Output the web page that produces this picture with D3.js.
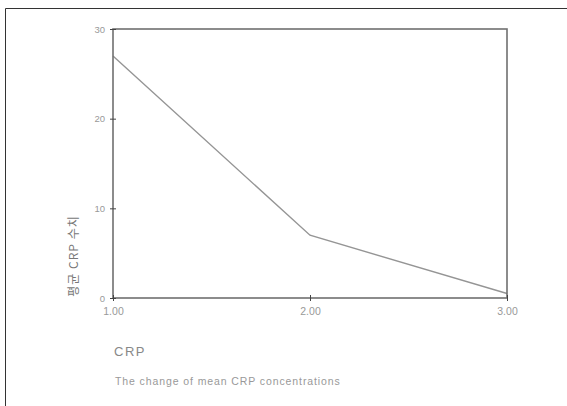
<!DOCTYPE html>
<html>
<head>
<meta charset="utf-8">
<script src="https://cdn.jsdelivr.net/npm/d3@7"></script>
<style>
    body { margin: 0; background: #fff; }
    text { font-family: "Liberation Sans", Arial, sans-serif; }
</style>
</head>
<body>
<svg></svg>
<script>
const groups = [1, 2, 3];
const meanCrp = [27, 7, 0.5];
const xTicks = [1, 2, 3];
const yTicks = [0, 10, 20, 30];
const yLabel = "평균 CRP 수치";
const xLabel = "CRP";
const caption = "The change of mean CRP concentrations";

const width = 567;
const height = 406;
const margin = { top: 29, right: 60, bottom: 108, left: 113 };

const svg = d3.select("svg")
    .attr("width", width)
    .attr("height", height);

/* outer frame of the figure, running off right and bottom */
svg.append("path")
    .attr("d", `M5.5,${height + 2}V8.5H${width + 2}`)
    .attr("fill", "none")
    .attr("stroke", "#333")
    .attr("stroke-width", 1);

const w = width - margin.left - margin.right;
const h = height - margin.top - margin.bottom;

const g = svg.append("g")
    .attr("transform", `translate(${[margin.left, margin.top]})`);

const x = d3.scaleLinear().domain([1, 3]).range([0, w]);
const y = d3.scaleLinear().domain([0, 30]).range([h, 0]);

const line = d3.line()
    .x((d, i) => x(groups[i]))
    .y((d) => y(d));

g.append("path")
    .datum(meanCrp)
    .attr("fill", "none")
    .attr("stroke", "#959595")
    .attr("stroke-width", 1.4)
    .attr("d", line);

g.append("rect")
    .attr("width", w)
    .attr("height", h)
    .attr("fill", "none")
    .attr("stroke", "#707070")
    .attr("stroke-width", 1.6);

const yAxis = g.append("g")
    .call(d3.axisLeft(y).tickValues(yTicks).tickSize(3).tickFormat(d3.format("d")));
yAxis.select(".domain").remove();
yAxis.selectAll(".tick line").attr("x2", 3).attr("x1", -3).attr("stroke", "#444");
yAxis.selectAll(".tick text")
    .attr("x", -8)
    .attr("fill", "#999")
    .style("font-size", "9.5px");

const xAxis = g.append("g")
    .attr("transform", `translate(0,${h})`)
    .call(d3.axisBottom(x).tickValues(xTicks).tickSize(3).tickFormat(d3.format(".2f")));
xAxis.select(".domain").remove();
xAxis.selectAll(".tick line").attr("y1", -3).attr("y2", 3).attr("stroke", "#444");
xAxis.selectAll(".tick text")
    .attr("y", 10)
    .attr("fill", "#999")
    .style("font-size", "10.5px");

svg.append("text")
    .attr("transform", `translate(78,${margin.top + h - 42}) rotate(-90)`)
    .attr("text-anchor", "middle")
    .attr("fill", "#777")
    .style("font-family", "'Noto Sans CJK KR', sans-serif")
    .style("font-size", "12px")
    .style("letter-spacing", "1px")
    .text(yLabel);

svg.append("text")
    .attr("x", 114)
    .attr("y", 356)
    .attr("fill", "#888")
    .style("font-size", "13px")
    .style("letter-spacing", "1.5px")
    .text(xLabel);

svg.append("text")
    .attr("x", 115)
    .attr("y", 385)
    .attr("fill", "#999")
    .style("font-size", "10.5px")
    .style("letter-spacing", "0.9px")
    .text(caption);
</script>
</body>
</html>
